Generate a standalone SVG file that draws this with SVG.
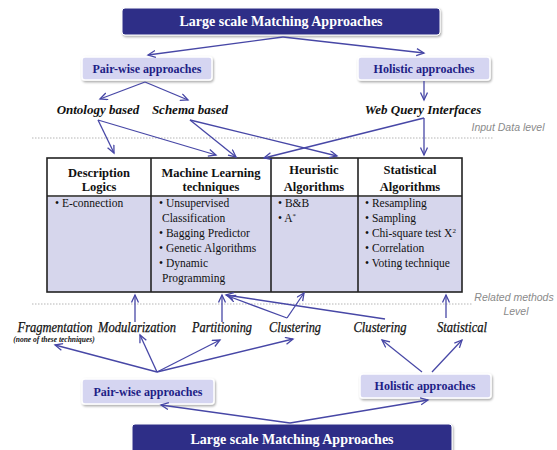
<svg xmlns="http://www.w3.org/2000/svg" width="557" height="450" viewBox="0 0 557 450">
<style>
.big{fill:#2f2f87;stroke:#ffffff;stroke-width:1}
.bigt{font-family:"Liberation Serif",serif;font-weight:bold;font-size:14px;fill:#ffffff;text-anchor:middle}
.sub{fill:#d5d5f1;stroke:#ffffff;stroke-width:1.5}
.subt{font-family:"Liberation Serif",serif;font-weight:bold;font-size:12px;fill:#1e1e86;text-anchor:middle}
.lab{font-family:"Liberation Serif",serif;font-weight:bold;font-style:italic;font-size:13px;fill:#111;text-anchor:middle}
.lab2{font-family:"Liberation Serif",serif;font-style:italic;font-size:14px;fill:#111;text-anchor:middle;stroke:#111;stroke-width:0.25}
.note{font-family:"Liberation Serif",serif;font-weight:bold;font-style:italic;font-size:7.5px;fill:#111;text-anchor:middle}
.lvl{font-family:"Liberation Sans",Arial,sans-serif;font-style:italic;font-size:10.5px;fill:#8a8a8a;text-anchor:middle}
.dot{stroke:#b5b5b5;stroke-width:1;stroke-dasharray:1.5 1.5;fill:none}
.hd{font-family:"Liberation Serif",serif;font-weight:bold;font-size:12.5px;fill:#111;text-anchor:middle}
.bd{font-family:"Liberation Serif",serif;font-size:11.5px;fill:#111}
.grid{stroke:#222;stroke-width:1.6;fill:none}
.c line{stroke:#4747a6;stroke-width:1.3;marker-end:url(#ah)}
</style>
<defs>
<marker id="ah" markerUnits="userSpaceOnUse" markerWidth="10" markerHeight="10" refX="8" refY="4" orient="auto">
<path d="M0.5,0.5 L8,4 L0.5,7.5" fill="none" stroke="#4747a6" stroke-width="1.3"/>
</marker>
<filter id="sh" x="-10%" y="-20%" width="120%" height="150%">
<feDropShadow dx="1" dy="1.5" stdDeviation="1.2" flood-color="#000" flood-opacity="0.35"/>
</filter>
</defs>

<g id="levels">
<line class="dot" x1="32" y1="138" x2="494" y2="138"/>
<text class="lvl" x="508" y="131">Input Data level</text>
<line class="dot" x1="32" y1="304" x2="473" y2="304"/>
<text class="lvl" x="514" y="301">Related methods</text>
<text class="lvl" x="516" y="315">Level</text>
</g>

<g id="top-main"><rect class="big" x="122" y="8" width="318" height="27" rx="3" filter="url(#sh)"/><text class="bigt" x="281" y="26">Large scale Matching Approaches</text></g>
<g id="top-pairwise"><rect class="sub" x="82" y="57" width="130" height="23" rx="3" filter="url(#sh)"/><text class="subt" x="147" y="73">Pair-wise approaches</text></g>
<g id="top-holistic"><rect class="sub" x="358" y="57" width="132" height="23" rx="3" filter="url(#sh)"/><text class="subt" x="424" y="73">Holistic approaches</text></g>
<g id="ontology"><text class="lab" x="98" y="114">Ontology based</text></g>
<g id="schema"><text class="lab" x="190" y="114">Schema based</text></g>
<g id="webquery"><text class="lab" x="423" y="114">Web Query Interfaces</text></g>

<g id="table">
<rect x="47" y="158" width="415" height="39" fill="#ffffff"/>
<rect x="47" y="197" width="415" height="95" fill="#d6d6ec"/>
<rect class="grid" x="47" y="158" width="415" height="134"/>
<line class="grid" x1="47" y1="196" x2="462" y2="196" stroke-width="2"/>
<line class="grid" x1="151" y1="158" x2="151" y2="292"/>
<line class="grid" x1="271" y1="158" x2="271" y2="292"/>
<line class="grid" x1="358" y1="158" x2="358" y2="292"/>
<text class="hd" x="99" y="177">Description</text><text class="hd" x="99" y="191">Logics</text>
<text class="hd" x="211" y="177">Machine Learning</text><text class="hd" x="211" y="191">techniques</text>
<text class="hd" x="314" y="174">Heuristic</text><text class="hd" x="314" y="191">Algorithms</text>
<text class="hd" x="410" y="174">Statistical</text><text class="hd" x="410" y="191">Algorithms</text>
<text class="bd" x="55" y="207">• E-connection</text>
<text class="bd" x="159" y="207">• Unsupervised</text>
<text class="bd" x="162" y="222">Classification</text>
<text class="bd" x="159" y="237">• Bagging Predictor</text>
<text class="bd" x="159" y="252">• Genetic Algorithms</text>
<text class="bd" x="159" y="267">• Dynamic</text>
<text class="bd" x="162" y="282">Programming</text>
<text class="bd" x="278" y="207">• B&amp;B</text>
<text class="bd" x="278" y="222">• A<tspan font-size="7" dy="-4">*</tspan></text>
<text class="bd" x="365" y="207">• Resampling</text>
<text class="bd" x="365" y="222">• Sampling</text>
<text class="bd" x="365" y="237">• Chi-square test X<tspan font-size="7" dy="-4">2</tspan></text>
<text class="bd" x="365" y="252">• Correlation</text>
<text class="bd" x="365" y="267">• Voting technique</text>
</g>

<g id="fragmentation"><text class="lab2" x="55" y="332" textLength="75" lengthAdjust="spacingAndGlyphs">Fragmentation</text><text class="note" x="54" y="342">(none of these techniques)</text></g>
<g id="modularization"><text class="lab2" x="137" y="332" textLength="78" lengthAdjust="spacingAndGlyphs">Modularization</text></g>
<g id="partitioning"><text class="lab2" x="222" y="332" textLength="60" lengthAdjust="spacingAndGlyphs">Partitioning</text></g>
<g id="clustering1"><text class="lab2" x="295" y="332" textLength="52" lengthAdjust="spacingAndGlyphs">Clustering</text></g>
<g id="clustering2"><text class="lab2" x="380" y="332" textLength="53" lengthAdjust="spacingAndGlyphs">Clustering</text></g>
<g id="statistical"><text class="lab2" x="462" y="332" textLength="50" lengthAdjust="spacingAndGlyphs">Statistical</text></g>

<g id="bottom-pairwise"><rect class="sub" x="82" y="379" width="132" height="25" rx="3" filter="url(#sh)"/><text class="subt" x="148" y="396">Pair-wise approaches</text></g>
<g id="bottom-holistic"><rect class="sub" x="360" y="374" width="131" height="24" rx="3" filter="url(#sh)"/><text class="subt" x="425" y="390">Holistic approaches</text></g>
<g id="bottom-main"><rect class="big" x="132" y="424" width="320" height="30" rx="3" filter="url(#sh)"/><text class="bigt" x="292" y="444">Large scale Matching Approaches</text></g>

<g id="connectors" class="c">
<line x1="283" y1="37" x2="148" y2="55"/>
<line x1="283" y1="37" x2="424" y2="53"/>
<line x1="145" y1="82" x2="100" y2="99"/>
<line x1="145" y1="82" x2="188" y2="100"/>
<line x1="424" y1="81" x2="424" y2="100"/>
<line x1="98" y1="120" x2="114" y2="153"/>
<line x1="98" y1="120" x2="216" y2="155"/>
<line x1="190" y1="120" x2="236" y2="157"/>
<line x1="190" y1="120" x2="337" y2="156"/>
<line x1="424" y1="118" x2="264" y2="158"/>
<line x1="424" y1="118" x2="424" y2="155"/>
<line x1="290" y1="423" x2="161" y2="405"/>
<line x1="290" y1="423" x2="428" y2="400"/>
<line x1="157" y1="372" x2="55" y2="345"/>
<line x1="157" y1="372" x2="140" y2="335"/>
<line x1="157" y1="372" x2="220" y2="340"/>
<line x1="157" y1="372" x2="293" y2="339"/>
<line x1="422" y1="372" x2="382" y2="340"/>
<line x1="432" y1="372" x2="462" y2="340"/>
<line x1="135" y1="322" x2="135" y2="295"/>
<line x1="222" y1="322" x2="222" y2="295"/>
<line x1="287" y1="318" x2="304" y2="293"/>
<line x1="287" y1="318" x2="228" y2="296"/>
<line x1="385" y1="319" x2="226" y2="295"/>
<line x1="446" y1="318" x2="446" y2="295"/>
</g>
</svg>
